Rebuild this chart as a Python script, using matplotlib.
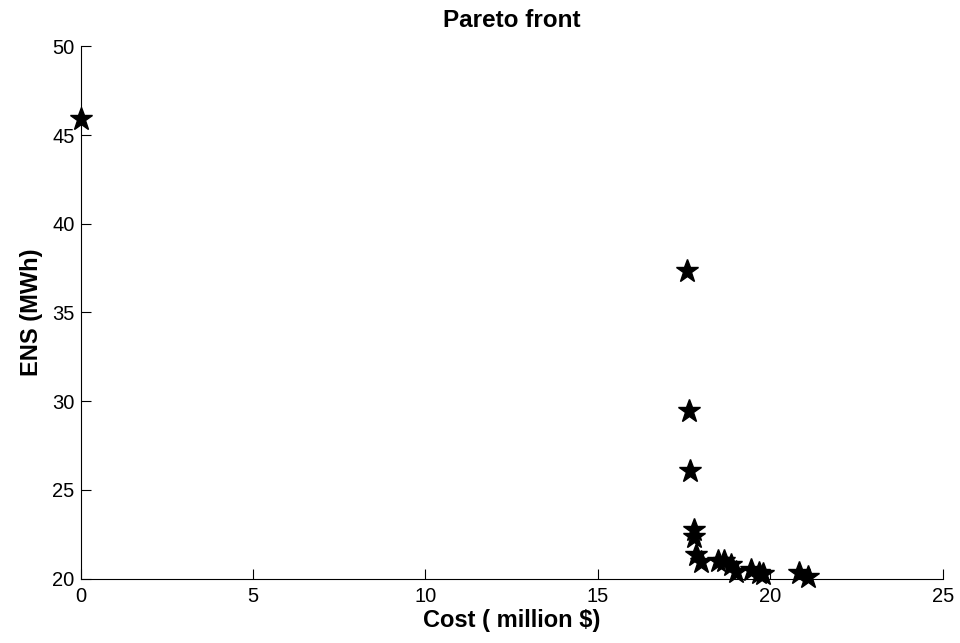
import matplotlib
matplotlib.use('Agg')
import matplotlib.pyplot as plt

plt.rcParams['font.family'] = ['Liberation Sans', 'DejaVu Sans']

# Pareto front solutions: cost (million $) vs energy not supplied (MWh)
cost = [0.0, 17.59, 17.65, 17.67, 17.79, 17.79, 17.85, 17.99, 18.49, 18.66,
        18.87, 19.01, 19.45, 19.68, 19.80, 20.84, 21.10]
ens = [45.93, 37.34, 29.44, 26.05, 22.77, 22.37, 21.36, 20.96, 21.00, 21.00,
       20.80, 20.40, 20.50, 20.30, 20.25, 20.30, 20.10]

fig = plt.figure(figsize=(9.6, 6.43), dpi=100)
ax = fig.add_axes([0.084, 0.1, 0.898, 0.828])

ax.plot(cost, ens, linestyle='none', marker='*', markersize=17,
        color='black', markeredgecolor='black', clip_on=False, zorder=3)

ax.set_xlim(0, 25)
ax.set_ylim(20, 50)
ax.set_xticks([0, 5, 10, 15, 20, 25])
ax.set_yticks([20, 25, 30, 35, 40, 45, 50])

ax.spines['top'].set_visible(False)
ax.spines['right'].set_visible(False)
ax.tick_params(direction='in', length=7, labelsize=14.5, top=False, right=False)
ax.tick_params(axis='x', pad=6)
ax.tick_params(axis='y', pad=4.5)

ax.set_title('Pareto front', fontsize=17.5, fontweight='bold', pad=14)
ax.set_xlabel('Cost ( million $)', fontsize=17, fontweight='bold', labelpad=2)
ax.set_ylabel('ENS (MWh)', fontsize=17, fontweight='bold', labelpad=6.5)

fig.savefig('out.png', dpi=100)
